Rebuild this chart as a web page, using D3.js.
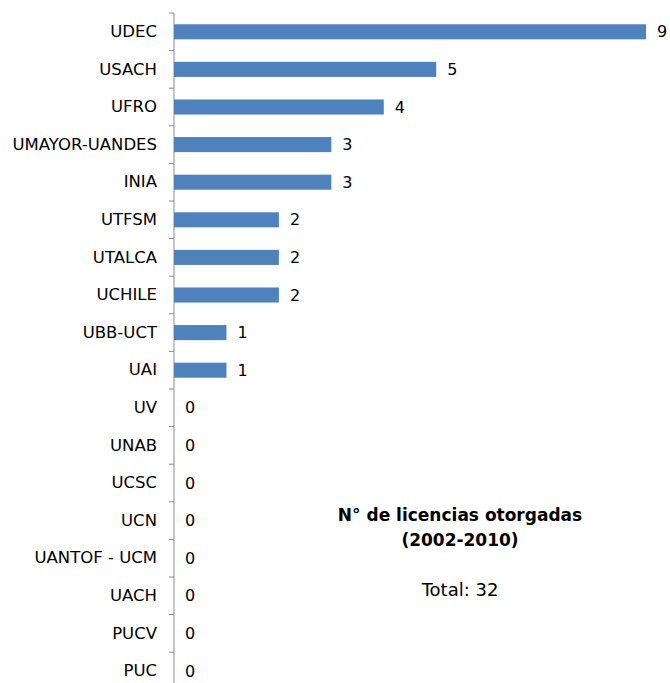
<!DOCTYPE html>
<html>
<head>
<meta charset="utf-8">
<script src="https://cdn.jsdelivr.net/npm/d3@7"></script>
<style>
  body { margin: 0; background: #fff; }
  text { font-family: "DejaVu Sans", sans-serif; }
</style>
</head>
<body>
<div id="grafico"></div>
<script>
// Datos
const instituciones = ["UDEC", "USACH", "UFRO", "UMAYOR-UANDES", "INIA", "UTFSM", "UTALCA", "UCHILE",
    "UBB-UCT", "UAI", "UV", "UNAB", "UCSC", "UCN", "UANTOF - UCM", "UACH", "PUCV", "PUC"];
const licencias = [9, 5, 4, 3, 3, 2, 2, 2, 1, 1, 0, 0, 0, 0, 0, 0, 0, 0];
const tituloLineas = ["N° de licencias otorgadas", "(2002-2010)"];
const totalTexto = "Total: 32";

const datos = instituciones.map((n, i) => ({ nombre: n, valor: licencias[i] }));

const svgWidth = 670, svgHeight = 683;
const margin = { top: 13, left: 174 };
const bandStep = 37.6;

const svg = d3.select("#grafico")
    .append("svg")
    .attr("width", svgWidth)
    .attr("height", svgHeight);

const g = svg.append("g")
    .attr("transform", `translate(${margin.left}, ${margin.top})`);

// Escalas
const x = d3.scaleLinear()
    .domain([0, 9])
    .range([0, 472]);

const y = d3.scaleBand()
    .domain(instituciones)
    .range([0, bandStep * instituciones.length])
    .paddingInner(0.6)
    .paddingOuter(0.3);

// Eje
const ejeY = g.append("g")
    .call(d3.axisLeft(y).tickSize(0).tickPadding(17));
ejeY.select(".domain").remove();
ejeY.selectAll("text")
    .attr("font-size", 16.5)
    .attr("fill", "#000")
    .style("font-family", "'DejaVu Sans', sans-serif");

g.append("line")
    .attr("x1", 0).attr("x2", 0)
    .attr("y1", 0).attr("y2", svgHeight)
    .attr("stroke", "#8c8c8c")
    .attr("stroke-width", 1);

// marcas entre categorias
g.selectAll(".marca")
    .data(d3.range(instituciones.length + 1))
    .enter().append("line")
    .attr("x1", -5).attr("x2", 0)
    .attr("y1", i => i * bandStep)
    .attr("y2", i => i * bandStep)
    .attr("stroke", "#8c8c8c");

// Barras
g.selectAll(".barra")
    .data(datos)
    .enter().append("rect")
    .attr("x", 0)
    .attr("y", d => y(d.nombre))
    .attr("width", d => x(d.valor))
    .attr("height", y.bandwidth())
    .attr("fill", "#4f81bd");

g.selectAll(".valor")
    .data(datos)
    .enter().append("text")
    .attr("x", d => x(d.valor) + 11)
    .attr("y", d => y(d.nombre) + y.bandwidth() / 2)
    .attr("dy", "0.35em")
    .attr("font-size", 16)
    .text(d => d.valor);

// Titulo
const titulo = svg.append("text")
    .attr("x", 460)
    .attr("y", 521)
    .attr("text-anchor", "middle")
    .attr("font-size", 17)
    .attr("font-weight", "bold");
titulo.selectAll("tspan")
    .data(tituloLineas)
    .enter().append("tspan")
    .attr("x", 460)
    .attr("dy", (d, i) => i === 0 ? 0 : 25)
    .text(d => d);

svg.append("text")
    .attr("x", 460)
    .attr("y", 596)
    .attr("text-anchor", "middle")
    .attr("font-size", 18)
    .text(totalTexto);
</script>
</body>
</html>
